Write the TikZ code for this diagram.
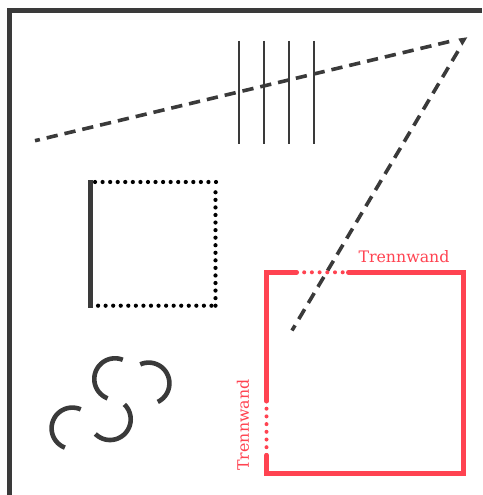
\documentclass[tikz,border=0pt]{standalone}
\usepackage{fontspec}
\newfontfamily\labelfont{DejaVu Serif}
\definecolor{ink}{HTML}{3A3A3A}
\definecolor{wand}{HTML}{FF4351}
\newcommand{\ringpart}[4]{%
 \draw[arcline] plot[domain=#3:#4,samples=40,smooth] ({#1+20.7*cos(\x)},{#2+20.7*sin(\x)});}
\tikzset{
 x=1pt,y=-1pt,
 frameline/.style={draw=ink,line width=5pt},
 sighta/.style={draw=ink,line width=3.6pt,dash pattern=on 11.3pt off 7pt,dash phase=6.3pt},
 sightb/.style={draw=ink,line width=3.6pt,dash pattern=on 11.5pt off 7.26pt,dash phase=5.5pt},
 tipmark/.style={fill=ink,draw=none},
 stripe/.style={draw=ink,line width=1.9pt},
 solidwall/.style={draw=ink,line width=5pt},
 dotwall/.style={draw=black,line width=4.2pt,line cap=round,dash pattern=on 0pt off 7.56pt},
 arcline/.style={draw=ink,line width=4.6pt},
 redwall/.style={draw=wand,line width=5pt,line cap=round,line join=miter},
 reddots/.style={draw=wand,line width=4pt,line cap=round,dash pattern=on 0pt off 7.7pt},
 wandlabel/.style={text=wand,font=\labelfont\fontsize{15.8}{16}\selectfont,inner sep=0pt},
}
\begin{document}
\begin{tikzpicture}
\useasboundingbox (0,0) rectangle (482,495);
\fill[white] (0,0) rectangle (482,495);
% frame
\coordinate (fa) at (9.9,495);
\coordinate (fb) at (9.9,10.3);
\coordinate (fc) at (482,10.3);
\draw[frameline,line join=miter] (fa) -- (fb) -- (fc);
% stripes
\foreach \x/\n in {238.7/a,263.7/b,288.7/c,313.7/d}{
 \coordinate (s\n) at (\x,41);
 \coordinate (e\n) at (\x,144.3);
 \draw[stripe] (s\n) -- (e\n);
}
% sight lines
\coordinate (tip) at (467.3,37.3);
\coordinate (l1) at (35,140.7);
\coordinate (l2) at (292,330.5);
\coordinate (e1) at (455,40.2);
\coordinate (e2) at (458.8,49.8);
\draw[sighta] (l1) -- (e1);
\draw[sightb] (l2) -- (e2);
\fill[tipmark] (tip) -- (458.3,38.6) -- (462.3,45.7) -- cycle;
% dotted square
\coordinate (q1) at (92,182);
\coordinate (q2) at (216,182);
\coordinate (q3) at (215.5,305.7);
\coordinate (q4) at (90.5,305.7);
\coordinate (q5) at (215.5,190);
\draw[dotwall] (q2) -- (q1);
\draw[dotwall] (q3) -- (q5);
\draw[dotwall] (q4) -- (q3);
\coordinate (w1) at (90.8,180);
\coordinate (w2) at (90.8,307.8);
\draw[solidwall] (w1) -- (w2);
% arcs
\ringpart{115}{379}{-249}{-68}
\ringpart{148.7}{383.3}{-114}{64}
\ringpart{110}{419.3}{-46}{135}
\ringpart{72.3}{428.3}{-249}{-66}
% red room
\coordinate (r1) at (296.5,272.3);
\coordinate (r2) at (266.5,272.3);
\coordinate (r3) at (266.5,401);
\coordinate (r4) at (266.5,455.5);
\coordinate (r5) at (266.5,473.7);
\coordinate (r6) at (463.7,473.7);
\coordinate (r7) at (463.7,272.3);
\coordinate (r8) at (348.5,272.3);
\draw[redwall] (r1) -- (r2) -- (r3);
\draw[redwall] (r4) -- (r5) -- (r6) -- (r7) -- (r8);
\draw[reddots] (r1) -- (r8);
\draw[reddots] (r3) -- (r4);
\node[wandlabel,anchor=base west] (ta) at (358.3,262.2) {Trennwand};
\node[wandlabel,anchor=base west,rotate=90] (tb) at (248.8,470.8) {Trennwand};
\end{tikzpicture}
\end{document}
